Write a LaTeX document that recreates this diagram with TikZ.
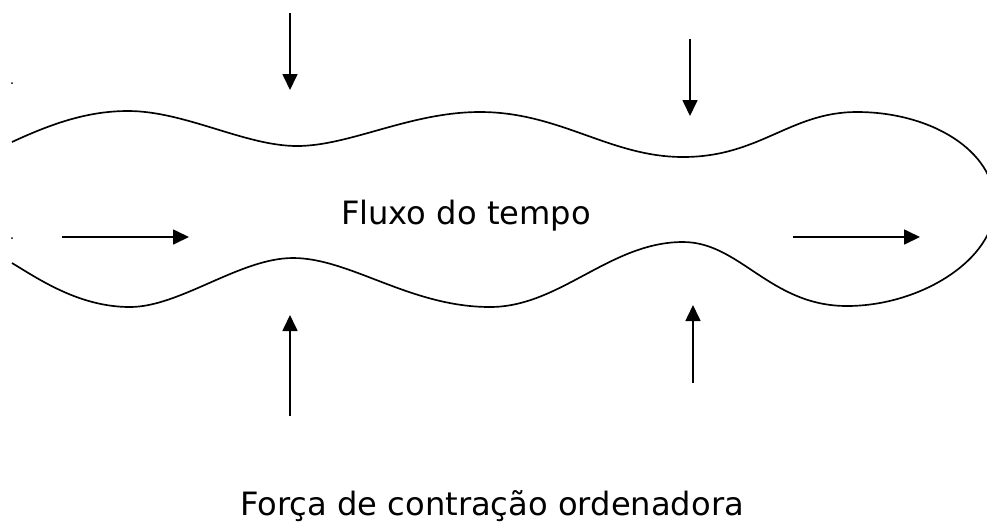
\documentclass[tikz,border=0pt]{standalone}
\usepackage{fontspec}
\setmainfont{DejaVu Sans}
\usetikzlibrary{arrows.meta}
\begin{document}
\begin{tikzpicture}[x=0.02cm, y=-0.02cm, line width=0.95pt,
    push/.style={-{Triangle[length=0.32cm, width=0.3cm]}},
    lbl/.style={anchor=base, inner sep=0pt, font=\fontsize{18.3}{21}\selectfont}]
         \useasboundingbox (0, 0) rectangle (987, 522);
         \clip (0, 0) rectangle (987, 522);
         \draw (12, 142) .. controls (55, 122) and (90, 111) .. (128, 111)
               .. controls (185, 111) and (245, 146) .. (297, 146)
               .. controls (350, 146) and (410, 112) .. (480, 112)
               .. controls (560, 112) and (610, 157) .. (683, 157)
               .. controls (760, 157) and (790, 112) .. (857, 112)
               .. controls (930, 112) and (995, 150) .. (995, 205)
               .. controls (995, 260) and (920, 306) .. (847, 306)
               .. controls (770, 306) and (740, 242) .. (683, 242)
               .. controls (610, 242) and (560, 307) .. (490, 307)
               .. controls (410, 307) and (350, 258) .. (293, 258)
               .. controls (240, 258) and (180, 307) .. (130, 307)
               .. controls (80, 307) and (40, 280) .. (12, 263);
         \fill (12, 83) circle (1);
         \fill (12, 238) circle (1);
         \node [lbl] (FT) at (466, 224) {Fluxo do tempo};
         \node [lbl] (FC) at (492, 515) {Força de contração ordenadora};
         \coordinate (LTs) at (290, 13);   \coordinate (LTe) at (290, 90);
         \coordinate (RTs) at (690, 39);   \coordinate (RTe) at (690, 116);
         \coordinate (LMs) at (62, 237);   \coordinate (LMe) at (189, 237);
         \coordinate (RMs) at (793, 237);  \coordinate (RMe) at (920, 237);
         \coordinate (LBs) at (290, 416);  \coordinate (LBe) at (290, 315);
         \coordinate (RBs) at (693, 383);  \coordinate (RBe) at (693, 305);
         \draw [push] (LTs) -- (LTe);
         \draw [push] (RTs) -- (RTe);
         \draw [push] (LMs) -- (LMe);
         \draw [push] (RMs) -- (RMe);
         \draw [push] (LBs) -- (LBe);
         \draw [push] (RBs) -- (RBe);
\end{tikzpicture}
\end{document}
